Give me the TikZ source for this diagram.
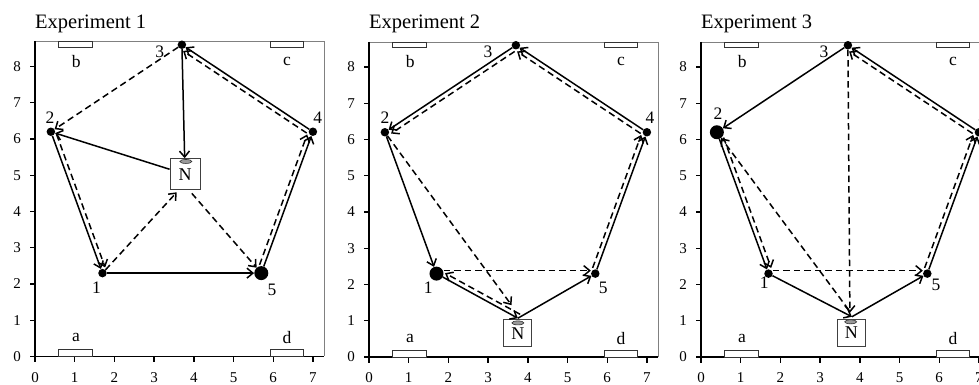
\documentclass[tikz,border=0pt]{standalone}
\usepackage{fontspec}
\setmainfont{Liberation Serif}
\usetikzlibrary{arrows.meta}
\tikzset{
  dot/.style={circle,fill=black,draw=none,inner sep=0pt,minimum size=8.5pt},
  bigdot/.style={dot,minimum size=14pt},
  sarr/.style={line width=1.5pt,-{Straight Barb[length=6pt,width=10pt]}},
  darr/.style={sarr,dash pattern=on 6.5pt off 4pt},
  axisline/.style={line width=1.4pt,black},
  frameline/.style={line width=0.9pt,black!50},
  ticklab/.style={font=\fontsize{15}{15}\selectfont,inner sep=0pt},
  lbl/.style={font=\fontsize{17.5}{17.5}\selectfont,inner sep=0pt},
  ttl/.style={font=\fontsize{20.5}{20.5}\selectfont,inner sep=0pt,anchor=base west},
  nbox/.style={draw=black!75,line width=0.9pt,fill=white,inner sep=0pt,font=\fontsize{18}{18}\selectfont},
  sensor/.style={draw=black!80,fill=black!40,line width=0.6pt},
  pad/.style={draw=black!80,fill=white,line width=0.8pt},
}
\newcommand\panelframe[2]{%
  \node[ttl] (#1title) at (0,9.05) {Experiment #2};
  \draw[frameline] (0,8.69) -- (7.28,8.69) -- (7.28,0);
  \foreach \k in {0,...,8}{\draw[axisline] (0,\k) -- ++(-5pt,0pt);
    \node[ticklab,anchor=east,xshift=-14pt] (#1y\k) at (0,\k) {\k};}
  \foreach \k in {0,...,7}{\draw[axisline] (\k,0) -- ++(0pt,-6pt);
    \node[ticklab,yshift=-21pt] (#1x\k) at (\k,0) {\k};}
  \draw[axisline] (0,8.69) -- (0,0) -- (7.28,0);
  \draw[pad] (0.6,8.53) rectangle (1.44,8.69);
  \draw[pad] (5.92,8.53) rectangle (6.75,8.69);
  \draw[pad] (0.6,0) rectangle (1.44,0.19);
  \draw[pad] (5.94,0) rectangle (6.75,0.19);
  \node[lbl] (#1pb) at (1.04,8.14) {b};
  \node[lbl] (#1pc) at (6.35,8.14) {c};
  \node[lbl] (#1pa) at (1.03,0.52) {a};
  \node[lbl] (#1pd) at (6.35,0.52) {d};
}
\begin{document}
\begin{tikzpicture}[x=1pt,y=1pt]
\useasboundingbox (0,0) rectangle (979,385);
\clip (0,0) rectangle (979,385);

% ---------------- Experiment 1 ----------------
\begin{scope}[shift={(35pt,28.5pt)},x=39.7pt,y=36.25pt]
  \panelframe{A}{1}
  \node[dot] (A1) at (1.7,2.3) {};
  \node[dot] (A2) at (0.4,6.2) {};
  \node[dot] (A3) at (3.7,8.6) {};
  \node[dot] (A4) at (7.0,6.2) {};
  \node[bigdot] (A5) at (5.7,2.3) {};
  \node[nbox,minimum width=30pt,minimum height=31pt] (AN) at (3.78,5.03) {\raisebox{-3pt}{N}};
  \draw[sensor] (3.8,5.38) ellipse (6pt and 2pt);
  \node[lbl] (Al1) at (1.55,1.89) {1};
  \node[lbl] (Al2) at (0.38,6.59) {2};
  \node[lbl] (Al3) at (3.14,8.41) {3};
  \node[lbl] (Al4) at (7.12,6.59) {4};
  \node[lbl] (Al5) at (5.97,1.83) {5};
  \coordinate (ANin) at (3.57,4.53);
  \coordinate (ANout) at (3.95,4.5);
  % solid
  \draw[sarr] (A1) -- (A5);
  \draw[sarr] (A5) -- (A4);
  \draw[sarr] (A4) -- (A3);
  \draw[sarr] (A3) -- (AN);
  \draw[sarr] (AN) -- (A2);
  \draw[sarr] (A2) -- (A1);
  % dashed
  \draw[darr] (A1) -- (ANin);
  \draw[darr] (ANout) -- (A5);
  \draw[darr,transform canvas={shift={(-4.2pt,1.5pt)}}] (A5) -- (A4);
  \draw[darr,transform canvas={shift={(-2.5pt,-3.75pt)}}] (A4) -- (A3);
  \draw[darr] (A3) -- (A2);
  \draw[darr,transform canvas={shift={(4.2pt,1.5pt)}}] (A2) -- (A1);
\end{scope}

% ---------------- Experiment 2 ----------------
\begin{scope}[shift={(369pt,28pt)},x=39.7pt,y=36.25pt]
  \panelframe{B}{2}
  \node[bigdot] (B1) at (1.7,2.3) {};
  \node[dot] (B2) at (0.4,6.2) {};
  \node[dot] (B3) at (3.7,8.6) {};
  \node[dot] (B4) at (7.0,6.2) {};
  \node[dot] (B5) at (5.7,2.3) {};
  \node[nbox,minimum width=28pt,minimum height=27pt] (BN) at (3.75,0.65) {\raisebox{-3pt}{N}};
  \draw[sensor] (3.75,0.94) ellipse (6pt and 2pt);
  \node[lbl] (Bl1) at (1.49,1.9) {1};
  \node[lbl] (Bl2) at (0.4,6.59) {2};
  \node[lbl] (Bl3) at (3.0,8.41) {3};
  \node[lbl] (Bl4) at (7.08,6.59) {4};
  \node[lbl] (Bl5) at (5.9,1.9) {5};
  \coordinate (BNt) at (3.75,1.07);
  \coordinate (BNin) at (3.59,1.43);
  % solid
  \draw[sarr] (B1) -- (BNt);
  \draw[sarr] (BNt) -- (B5);
  \draw[sarr] (B5) -- (B4);
  \draw[sarr] (B4) -- (B3);
  \draw[sarr] (B3) -- (B2);
  \draw[sarr] (B2) -- (B1);
  % dashed
  \draw[darr,transform canvas={shift={(0pt,3pt)}}] (B1) -- (B5);
  \draw[darr,transform canvas={shift={(-4.2pt,1.5pt)}}] (B5) -- (B4);
  \draw[darr,transform canvas={shift={(-2.5pt,-3.75pt)}}] (B4) -- (B3);
  \draw[darr,transform canvas={shift={(2.5pt,-3.75pt)}}] (B3) -- (B2);
  \draw[darr] (B2) -- (BNin);
  \draw[darr,transform canvas={shift={(2.25pt,3.9pt)}}] (BNt) -- (B1);
\end{scope}

% ---------------- Experiment 3 ----------------
\begin{scope}[shift={(701pt,28pt)},x=39.7pt,y=36.25pt]
  \panelframe{C}{3}
  \node[dot] (C1) at (1.7,2.3) {};
  \node[bigdot] (C2) at (0.4,6.2) {};
  \node[dot] (C3) at (3.7,8.6) {};
  \node[dot] (C4) at (7.0,6.2) {};
  \node[dot] (C5) at (5.7,2.3) {};
  \node[nbox,minimum width=28pt,minimum height=27pt] (CN) at (3.79,0.67) {\raisebox{-3pt}{N}};
  \draw[sensor] (3.77,0.97) ellipse (6pt and 2pt);
  \node[lbl] (Cl1) at (1.59,2.05) {1};
  \node[lbl] (Cl2) at (0.43,6.7) {2};
  \node[lbl] (Cl3) at (3.1,8.41) {3};
  \node[lbl] (Cl4) at (7.1,6.59) {4};
  \node[lbl] (Cl5) at (5.92,2.0) {5};
  \coordinate (CNt) at (3.8,1.11);
  \coordinate (CNin) at (3.75,1.22);
  \coordinate (CNout) at (3.72,1.3);
  % solid
  \draw[sarr] (C1) -- (CNt);
  \draw[sarr] (CNt) -- (C5);
  \draw[sarr] (C5) -- (C4);
  \draw[sarr] (C4) -- (C3);
  \draw[sarr] (C3) -- (C2);
  \draw[sarr] (C2) -- (C1);
  % dashed
  \draw[darr,transform canvas={shift={(4.2pt,1.5pt)}}] (C2) -- (C1);
  \draw[darr,transform canvas={shift={(0pt,3pt)}}] (C1) -- (C5);
  \draw[darr,transform canvas={shift={(-4.2pt,1.5pt)}}] (C5) -- (C4);
  \draw[darr,transform canvas={shift={(-2.5pt,-3.75pt)}}] (C4) -- (C3);
  \draw[darr] (C3) -- (CNin);
  \draw[darr] (CNout) -- (C2);
\end{scope}
\end{tikzpicture}
\end{document}
